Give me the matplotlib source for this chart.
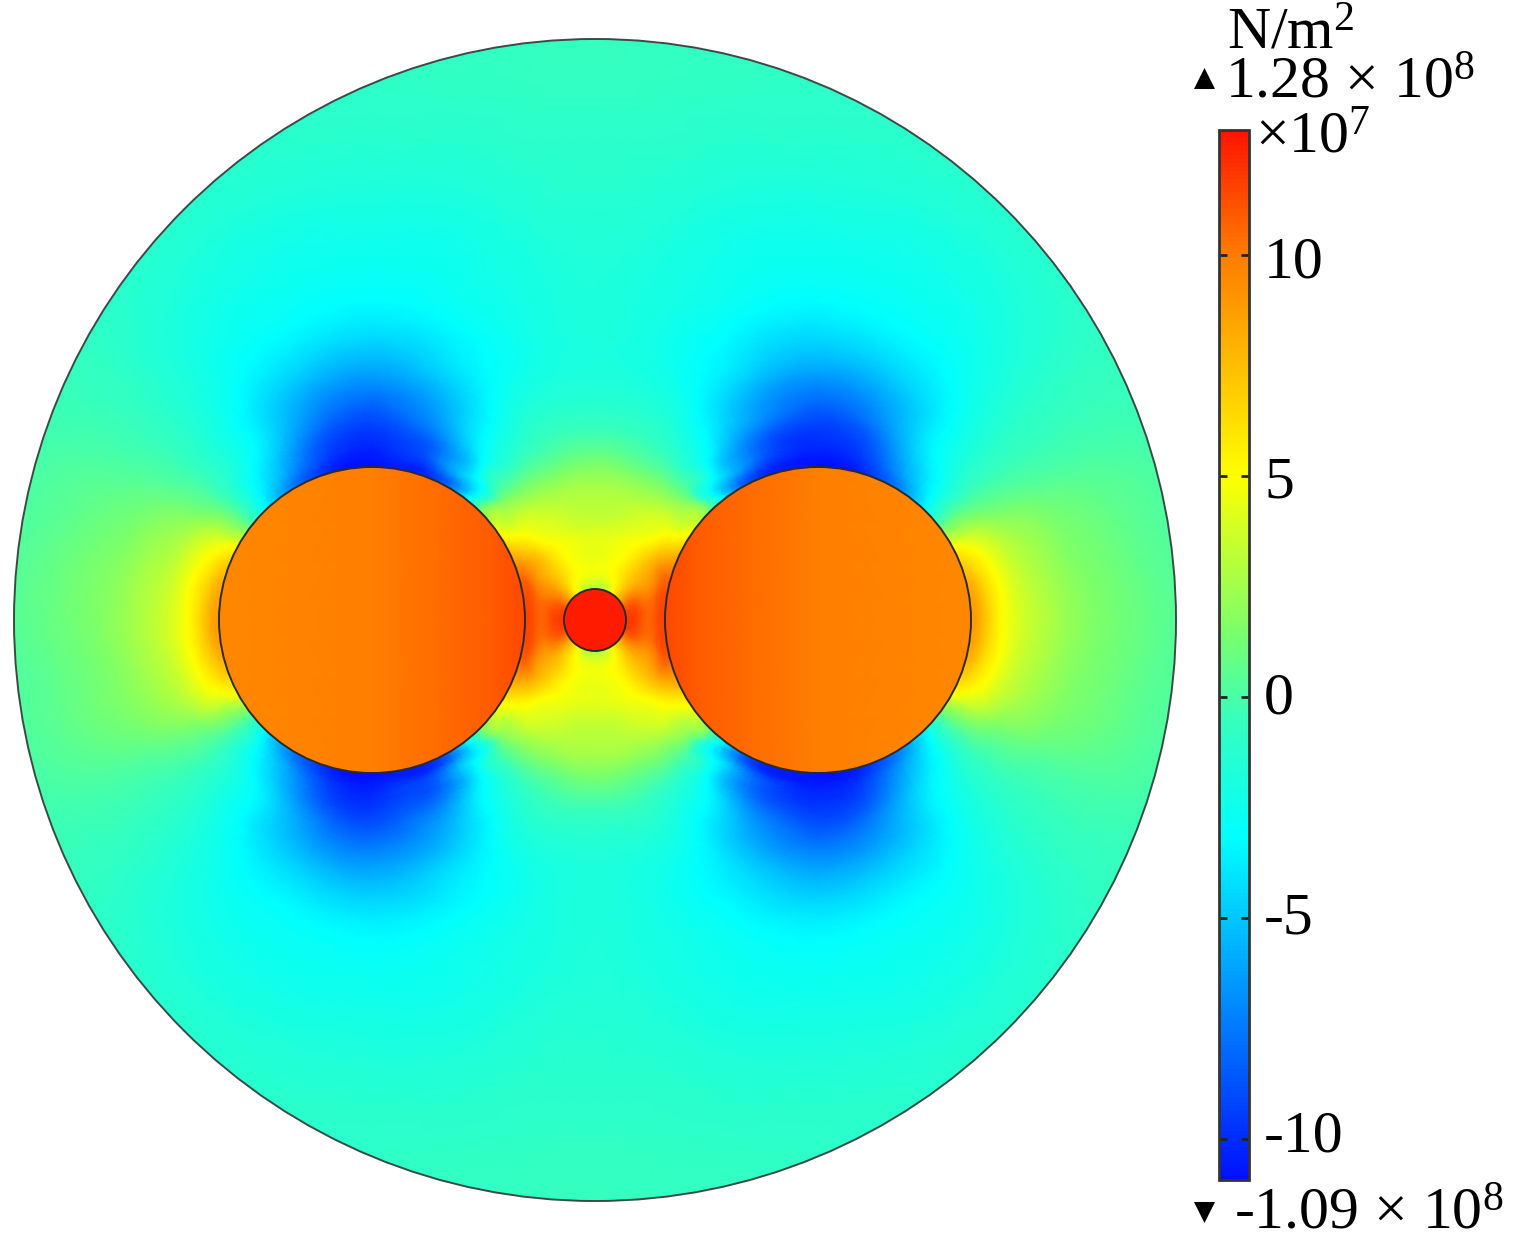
import numpy as np
import matplotlib
matplotlib.use('Agg')
import matplotlib.pyplot as plt
import matplotlib.tri as mtri
from matplotlib.colors import LinearSegmentedColormap, Normalize
from matplotlib.cm import ScalarMappable
from matplotlib.patches import Circle

plt.rcParams['font.family'] = ['Liberation Serif', 'DejaVu Serif']
plt.rcParams['mathtext.fontset'] = 'custom'
plt.rcParams['mathtext.rm'] = 'Liberation Serif'
plt.rcParams['mathtext.default'] = 'rm'

# stress in units of 1e7 N/m2
vmin, vmax = -10.93, 12.83
ticks = [-10, -5, 0, 5, 10]
tick_labels = ['-10', '-5', '0', '5', '10']
label_baselines = [1152, 933, 713, 497, 277]

# distance from the big circle centre (px) and angle (deg, 0 = outer side, 180 = towards middle)
rings = [153, 165, 180, 200, 225, 250, 280, 320, 370, 430, 520, 700, 900]
angles = [0, 15, 30, 45, 60, 75, 90, 105, 120, 135, 150, 160, 170, 180]
field = [
    [ 8.8,  7.8,  4.2, -2.6, -7.5, -10.3, -10.9, -10.3, -7.5,  1.0,  7.0,  9.2, 10.6, 11.2],
    [ 7.6,  6.8,  3.6, -2.3, -6.6,  -9.7, -10.5,  -9.7, -6.5, -0.8,  6.2,  8.3, 10.2, 11.3],
    [ 5.5,  5.2,  3.0, -2.0, -5.5,  -9.0,  -9.9,  -9.0, -5.5, -0.6,  5.2,  7.4,  9.0, 11.5],
    [ 4.0,  3.7,  2.0, -1.5, -4.4,  -7.8,  -9.0,  -7.6, -4.2, -0.5,  3.8,  6.0,  5.5, 11.8],
    [ 3.0,  2.7,  1.3, -1.3, -3.9,  -6.5,  -7.5,  -6.3, -3.4, -1.0,  3.4,  4.7,  4.2,  8.0],
    [ 2.2,  1.9,  0.8, -1.2, -3.5,  -5.2,  -6.0,  -5.0, -2.9, -0.3,  2.8,  2.8,  2.8,  2.8],
    [ 1.5,  1.3,  0.4, -1.1, -2.9,  -3.9,  -4.5,  -3.9, -2.6, -0.8, -0.2, -0.2, -0.2, -0.2],
    [ 0.9,  0.7,  0.1, -1.0, -2.4,  -2.9,  -3.2,  -2.9, -2.3, -1.0, -0.6, -0.6, -0.6, -0.6],
    [ 0.3,  0.2, -0.2, -0.9, -1.9,  -2.4,  -2.5,  -2.4, -1.9, -1.4, -1.4, -1.4, -1.4, -1.4],
    [ 0.0, -0.1, -0.3, -0.7, -1.3,  -1.7,  -1.8,  -1.8, -1.6, -1.4, -1.4, -1.4, -1.4, -1.4],
    [-0.2, -0.3, -0.4, -0.6, -0.8,  -1.0,  -1.0,  -1.0, -0.9, -0.9, -0.9, -0.9, -0.9, -0.9],
    [-0.5, -0.5, -0.5, -0.5, -0.5,  -0.5,  -0.5,  -0.5, -0.5, -0.5, -0.5, -0.5, -0.5, -0.5],
    [-0.5, -0.5, -0.5, -0.5, -0.5,  -0.5,  -0.5,  -0.5, -0.5, -0.5, -0.5, -0.5, -0.5, -0.5],
]

# finer table for the gap around the small circle, px from the middle
gap_dx = [0, 15, 30, 45, 60, 75, 90, 110]
gap_dy = [0, 20, 40, 60, 80, 100, 120, 140, 160]
gap_field = [
    [12.0, 12.0, 12.0, 11.2, 11.0, 11.2, 11.2, 11.2],
    [ 4.0,  6.0,  9.5, 10.3, 10.8, 11.0, 11.2, 11.2],
    [ 4.0,  4.6,  6.5,  8.0,  9.5, 10.5, 10.8, 10.8],
    [ 4.5,  4.7,  5.3,  6.5,  7.8,  8.5,  8.5,  8.5],
    [ 4.3,  4.4,  4.6,  4.8,  5.2,  5.6,  5.8,  5.8],
    [ 3.5,  3.5,  3.7,  3.9,  4.0,  3.8,  3.3,  2.2],
    [ 3.0,  3.0,  3.0,  2.9,  2.7,  2.2,  1.5, -0.6],
    [ 2.3,  2.3,  2.1,  1.7,  1.3,  0.6, -0.2, -2.0],
    [ 1.2,  1.1,  0.8,  0.4,  0.0, -0.6, -1.5, -3.0],
]

# inside the big circles: values from outer edge to inner edge
inner_pos = [0, 153, 270, 306]
inner_val = [9.5, 9.9, 10.8, 11.4]
small_val = 12.6

# colour map positions in the same units
cmap_vals = [-10.93, -3.2, -0.6, 1.5, 5, 10, 12.83]
cmap_cols = ['#0010ff', '#00ffff', '#34ffc0', '#7cff6a', '#ffff00', '#ff7d00', '#ff1400']

cx, cy, R = 595, 620, 581
offset, rc, rs = 223, 153, 31

cols = [(v - vmin) / (vmax - vmin) for v in cmap_vals]
cmap = LinearSegmentedColormap.from_list('rainbow_comsol', list(zip(cols, cmap_cols)))
norm = Normalize(vmin, vmax)

fig = plt.figure(figsize=(15.16, 12.47), dpi=100)
ax = fig.add_axes([0, 0, 1, 1])
ax.set_xlim(0, 1516)
ax.set_ylim(1247, 0)
ax.axis('off')

# nodes around the right big circle, upper table mirrored to the lower half
ang = np.array(angles, dtype=float)
vals = np.array(field)
full_ang = np.radians(np.concatenate([-ang[::-1], ang[1:]]))
full_vals = np.hstack([vals[:, ::-1], vals[:, 1:]])
rr, tt = np.meshgrid(rings, full_ang, indexing='ij')
px = offset + rr * np.cos(tt)
py = rr * np.sin(tt)
# drop what falls left of the middle or inside the gap table
keep = (px > 0) & ~((px <= gap_dx[-1]) & (np.abs(py) <= gap_dy[-1]))
px, py, pv = px[keep], py[keep], full_vals[keep]

# gap nodes, same mirroring, without the ones under the big circles
g = np.array(gap_field)
g = np.vstack([g[::-1], g[1:]])
g = np.hstack([g[:, ::-1], g[:, 1:]])
gx, gy = np.meshgrid(np.concatenate([-np.array(gap_dx[::-1]), gap_dx[1:]]),
                     np.concatenate([-np.array(gap_dy[::-1]), gap_dy[1:]]))
out = np.hypot(np.abs(gx) - offset, gy) > rc - 3
gx, gy, gv = gx[out], gy[out], g[out]

x = cx + np.concatenate([px, -px, gx])
y = cy + np.concatenate([py, py, gy])
v = np.concatenate([pv, pv, gv])

disk = Circle((cx, cy), R, fc='none', ec='#3a4a44', lw=1.4, zorder=5)
ax.add_patch(disk)
# smooth shading over the read values, the mesh facets show otherwise
tri = mtri.Triangulation(x, y)
tri_fine, v_fine = mtri.UniformTriRefiner(tri).refine_field(v, subdiv=3)
mesh = ax.tripcolor(tri_fine, v_fine, cmap=cmap, norm=norm, shading='gouraud', zorder=1)
mesh.set_clip_path(disk)

for side in [1, -1]:
    circ = Circle((cx + side * offset, cy), rc, fc='none', ec='#2a2a2a', lw=1.4, zorder=4)
    ax.add_patch(circ)
    xs = cx + side * (offset + rc - np.array(inner_pos, dtype=float))
    X2, Y2 = np.meshgrid(xs, [cy - rc, cy + rc])
    m2 = ax.pcolormesh(X2, Y2, np.array([inner_val, inner_val]), cmap=cmap, norm=norm,
                       shading='gouraud', zorder=3)
    m2.set_clip_path(circ)

ax.add_patch(Circle((cx, cy), rs, fc=cmap(norm(small_val)), ec='#2a2a2a', lw=1.4, zorder=4))

# colour bar
cax = fig.add_axes([1219 / 1516, 1 - 1180 / 1247, 30 / 1516, 1050 / 1247])
cb = fig.colorbar(ScalarMappable(norm=norm, cmap=cmap), cax=cax)
cb.set_ticks(ticks)
cb.set_ticklabels([])
cb.outline.set_edgecolor('#333333')
cb.outline.set_linewidth(2)
cax.tick_params(axis='y', which='major', left=True, right=True, direction='in',
                length=6, width=2, color='#222222')
cax.minorticks_off()

size = 43
for lab, base in zip(tick_labels, label_baselines):
    ax.text(1264, base, lab, fontsize=size, color='black')
ax.text(1227, 49, 'N/m$^{2}$', fontsize=size, color='black')
ax.text(1225, 98, '1.28 × 10$^{8}$', fontsize=size, color='black')
ax.text(1255, 153, '×10$^{7}$', fontsize=size, color='black')
ax.text(1234, 1229, '-1.09 × 10$^{8}$', fontsize=size, color='black')
ax.scatter([1204], [78], marker='^', s=230, c='black', linewidths=0)
ax.scatter([1204], [1212], marker='v', s=230, c='black', linewidths=0)

fig.savefig('out.png', dpi=100)
